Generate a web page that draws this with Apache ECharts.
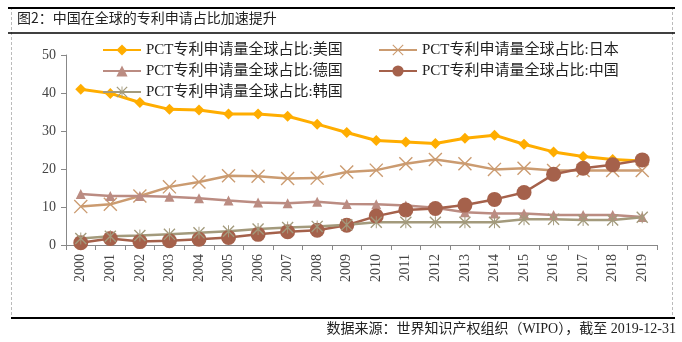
<!DOCTYPE html>
<html>
<head>
<meta charset="utf-8">
<script src="https://cdn.jsdelivr.net/npm/echarts@6/dist/echarts.min.js"></script>
<style>
  html, body { margin: 0; padding: 0; background: #fff; }
  #chart { width: 682px; height: 342px; }
</style>
</head>
<body>
<div id="chart"></div>
<script>
// PCT 专利申请量全球占比（%），2000–2019
const years = ['2000','2001','2002','2003','2004','2005','2006','2007','2008','2009',
               '2010','2011','2012','2013','2014','2015','2016','2017','2018','2019'];
const usa     = [41.0, 39.9, 37.5, 35.7, 35.5, 34.5, 34.5, 33.9, 31.8, 29.6,
                 27.5, 27.1, 26.7, 28.1, 28.9, 26.5, 24.5, 23.3, 22.5, 22.1];
const japan   = [10.1, 10.7, 12.9, 15.3, 16.6, 18.2, 18.1, 17.5, 17.6, 19.2,
                 19.7, 21.4, 22.5, 21.4, 19.9, 20.2, 19.6, 19.6, 19.6, 19.6];
const germany = [13.4, 12.9, 12.9, 12.7, 12.3, 11.7, 11.2, 11.0, 11.4, 10.8,
                 10.7, 10.4,  9.8,  8.6,  8.3,  8.3,  7.9,  7.9,  7.9,  7.4];
const china   = [ 0.6,  1.7,  0.9,  1.1,  1.5,  2.0,  2.8,  3.5,  3.9,  5.2,
                  7.6,  9.2,  9.6, 10.5, 12.0, 13.8, 18.6, 20.2, 21.1, 22.4];
const korea   = [ 1.7,  2.3,  2.5,  2.8,  3.2,  3.6,  4.2,  4.6,  4.9,  5.3,
                  6.0,  6.0,  6.0,  6.0,  6.0,  6.8,  6.8,  6.6,  6.6,  7.3];
const yTicks  = { min: 0, max: 50, interval: 10 };

const SERIF = '"Liberation Serif", "Noto Sans CJK SC", serif';
const CJK = '"Noto Sans CJK SC", sans-serif';

// marker shapes
const CROSS = 'path://M0,0.7L0.7,0L10,9.3L9.3,10Z M9.3,0L10,0.7L0.7,10L0,9.3Z';
const STAR  = 'path://M0,0.8L0.8,0L10,9.2L9.2,10Z M9.2,0L10,0.8L0.8,10L0,9.2Z M4.6,0L5.4,0L5.4,10L4.6,10Z';

function lineSeries(name, data, color, symbol, size, width) {
  return {
    name: name,
    type: 'line',
    data: data,
    symbol: symbol,
    symbolSize: size,
    showAllSymbol: true,
    lineStyle: { color: color, width: width },
    itemStyle: { color: color, borderWidth: 0 },
    emphasis: { disabled: true },
    animation: false
  };
}

const names = {
  usa: 'PCT专利申请量全球占比:美国',
  japan: 'PCT专利申请量全球占比:日本',
  germany: 'PCT专利申请量全球占比:德国',
  china: 'PCT专利申请量全球占比:中国',
  korea: 'PCT专利申请量全球占比:韩国'
};

const legendText = { fontFamily: SERIF, fontSize: 15, color: '#222', lineHeight: 16 };

const chart = echarts.init(document.getElementById('chart'), null, { renderer: 'canvas' });
chart.setOption({
  backgroundColor: '#fff',
  animation: false,
  title: {
    text: '图2：中国在全球的专利申请占比加速提升',
    left: 17, top: 11,
    padding: 0,
    textStyle: { fontFamily: CJK, fontSize: 14, fontWeight: 'normal', color: '#222' }
  },
  graphic: [
    { type: 'rect', shape: { x: 11.5, y: 8, width: 661, height: 310 },
      style: { fill: 'none', stroke: '#bbb', lineWidth: 1, lineDash: [3, 2] }, silent: true },
    { type: 'line', shape: { x1: 8, y1: 8, x2: 675, y2: 8 },
      style: { stroke: '#000', lineWidth: 2 }, silent: true },
    { type: 'line', shape: { x1: 8, y1: 33, x2: 675, y2: 33 },
      style: { stroke: '#000', lineWidth: 1.5 }, silent: true },
    { type: 'line', shape: { x1: 11, y1: 318, x2: 675, y2: 318 },
      style: { stroke: '#000', lineWidth: 2 }, silent: true },
    { type: 'text', right: 6, top: 322,
      style: { text: '数据来源：世界知识产权组织（WIPO），截至 2019-12-31',
               font: '14px ' + SERIF, fill: '#222' }, silent: true }
  ],
  legend: [
    { data: [names.usa, names.germany, names.korea], orient: 'vertical',
      left: 102, top: 42, padding: 0, itemGap: 5, itemWidth: 38, itemHeight: 14,
      selectedMode: false, textStyle: legendText },
    { data: [names.japan, names.china], orient: 'vertical',
      left: 378, top: 42, padding: 0, itemGap: 5, itemWidth: 38, itemHeight: 14,
      selectedMode: false, textStyle: legendText }
  ],
  grid: { left: 66, right: 25, top: 55, bottom: 97 },
  xAxis: {
    type: 'category',
    data: years,
    boundaryGap: true,
    axisLine: { lineStyle: { color: '#888', width: 1 } },
    axisTick: { show: true, length: 5, lineStyle: { color: '#888' } },
    axisLabel: { rotate: 90, margin: 9, fontFamily: SERIF, fontSize: 14, color: '#444', interval: 0 },
    splitLine: { show: false }
  },
  yAxis: {
    type: 'value',
    min: yTicks.min, max: yTicks.max, interval: yTicks.interval,
    axisLine: { show: true, lineStyle: { color: '#888', width: 1 } },
    axisTick: { show: true, length: 5, inside: false, lineStyle: { color: '#888' } },
    axisLabel: { margin: 10, fontFamily: SERIF, fontSize: 14, color: '#444' },
    splitLine: { show: false }
  },
  series: [
    lineSeries(names.usa, usa, '#FFAD00', 'diamond', 11, 3),
    lineSeries(names.japan, japan, '#CB9B70', CROSS, 14, 2.5),
    lineSeries(names.germany, germany, '#BB8C82', 'triangle', 10, 2.5),
    lineSeries(names.china, china, '#A5614B', 'circle', 15, 2.5),
    lineSeries(names.korea, korea, '#A39A7C', STAR, 12, 2.5)
  ]
});
</script>
</body>
</html>
